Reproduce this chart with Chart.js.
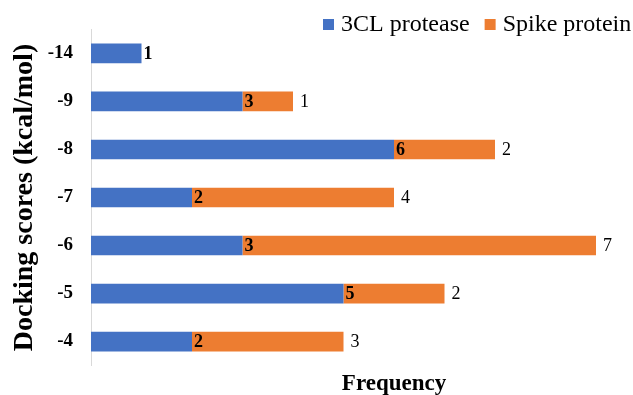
<!DOCTYPE html>
<html>
<head>
<meta charset="utf-8">
<script src="https://cdn.jsdelivr.net/npm/chart.js@4/dist/chart.umd.min.js"></script>
<style>
  html, body { margin: 0; padding: 0; background: #fff; }
  #wrap { width: 633px; height: 395px; }
</style>
</head>
<body>
<div id="wrap"><canvas id="chart" width="633" height="395"></canvas></div>
<script>
// docking score bins and how many hits fall in each, per target
const scores = ["-14", "-9", "-8", "-7", "-6", "-5", "-4"];
const protease3CL = [1, 3, 6, 2, 3, 5, 2];
const spikeProtein = [0, 1, 2, 4, 7, 2, 3];

const SERIF = "'Liberation Serif', 'Times New Roman', serif";

// value labels: bold count just past the blue segment, plain count after the whole bar
const barValues = {
  id: "barValues",
  afterDatasetsDraw(chart) {
    const ctx = chart.ctx;
    ctx.save();
    ctx.fillStyle = "#000";
    ctx.textBaseline = "middle";
    ctx.textAlign = "left";

    ctx.font = "bold 18px " + SERIF;
    chart.getDatasetMeta(0).data.forEach((bar, i) => {
      if (!protease3CL[i]) return;
      ctx.fillText(String(protease3CL[i]), bar.x + 2, bar.y + 1);
    });

    ctx.font = "18px " + SERIF;
    chart.getDatasetMeta(1).data.forEach((bar, i) => {
      if (!spikeProtein[i]) return;
      ctx.fillText(String(spikeProtein[i]), bar.x + 7, bar.y + 1);
    });

    // axis title under the bars
    ctx.font = "bold 23px " + SERIF;
    ctx.textAlign = "center";
    ctx.textBaseline = "alphabetic";
    ctx.fillText("Frequency", 394, 390);
    ctx.restore();
  },
};

// legend row in the top right corner, square swatch then series name
const topLegend = {
  id: "topLegend",
  afterDraw(chart) {
    const ctx = chart.ctx;
    ctx.save();
    ctx.font = "24px " + SERIF;
    ctx.textBaseline = "alphabetic";
    ctx.textAlign = "left";
    let x = 323;
    chart.data.datasets.forEach((ds) => {
      ctx.fillStyle = ds.backgroundColor;
      ctx.fillRect(x, 19, 11, 11);
      ctx.fillStyle = "#000";
      ctx.fillText(ds.label, x + 18, 31);
      x += 18 + ctx.measureText(ds.label).width + 15;
    });
    ctx.restore();
  },
};

new Chart(document.getElementById("chart"), {
  type: "bar",
  data: {
    labels: scores,
    datasets: [
      {
        label: "3CL protease",
        data: protease3CL,
        backgroundColor: "#4472C4",
        borderWidth: 0,
      },
      {
        label: "Spike protein",
        data: spikeProtein,
        backgroundColor: "#ED7D31",
        borderWidth: 0,
      },
    ],
  },
  options: {
    indexAxis: "y",
    responsive: false,
    animation: false,
    layout: { padding: { left: 0, right: 37, top: 29, bottom: 27 } },
    datasets: {
      bar: { categoryPercentage: 1, barPercentage: 0.41 },
    },
    scales: {
      x: {
        stacked: true,
        min: 0,
        max: 10,
        display: false,
      },
      y: {
        stacked: true,
        grid: { display: false, drawTicks: false },
        border: { display: true, color: "#d9d9d9", width: 1 },
        ticks: {
          color: "#000",
          padding: 18,
          font: { family: SERIF, size: 19, weight: "bold" },
        },
        title: {
          display: true,
          text: "Docking scores (kcal/mol)",
          color: "#000",
          padding: { top: 8, bottom: 0 },
          font: { family: SERIF, size: 28, weight: "bold" },
        },
        afterFit(scale) {
          scale.width = 91;
        },
      },
    },
    plugins: {
      legend: { display: false },
      tooltip: { enabled: false },
    },
  },
  plugins: [barValues, topLegend],
});
</script>
</body>
</html>
